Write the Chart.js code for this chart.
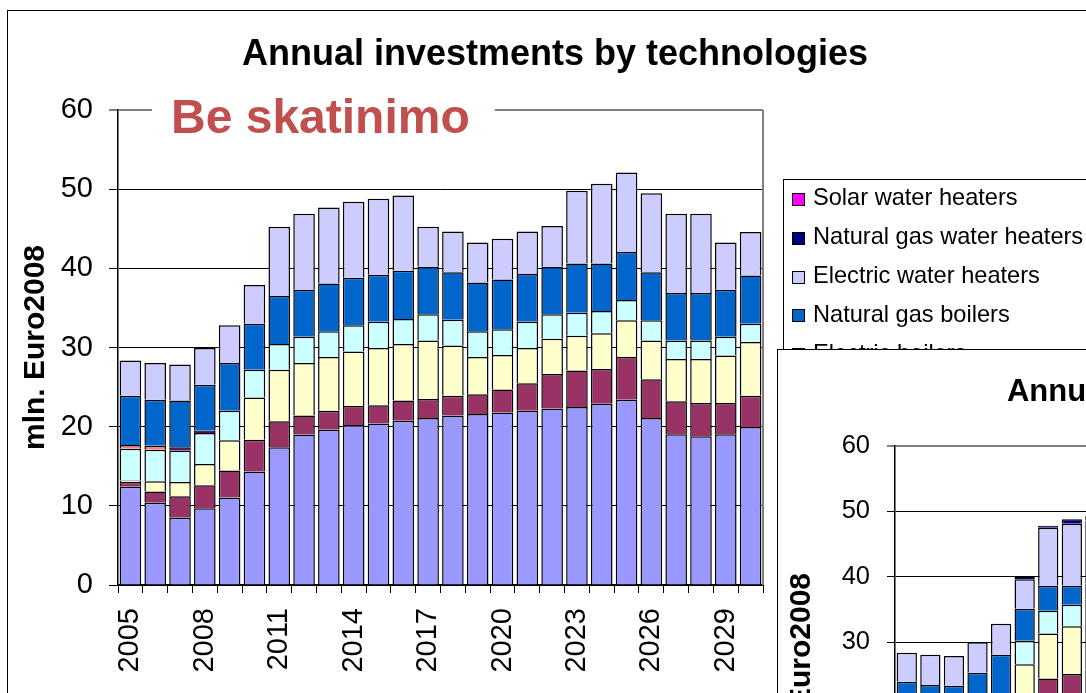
<!DOCTYPE html>
<html><head><meta charset="utf-8">
<script src="https://cdn.jsdelivr.net/npm/chart.js@4.4.1/dist/chart.umd.min.js"></script>
<style>
html,body{margin:0;padding:0;background:#fff;}
body{width:1086px;height:693px;overflow:hidden;position:relative;font-family:'Liberation Sans',Arial,sans-serif;}
#c1{position:absolute;left:0;top:0;}
#frame{position:absolute;left:7px;top:10px;width:1300px;height:900px;border:1px solid #000;pointer-events:none;}
#legend{position:absolute;left:783px;top:179px;width:400px;height:400px;border:1px solid #000;background:#fff;}
#legend .rows{position:absolute;left:0;top:-1.6px;}
#legend .row{position:relative;height:38.8px;line-height:38.8px;font-size:23.6px;white-space:nowrap;color:#000;}
#legend .sw{position:absolute;left:8px;top:14.5px;width:13px;height:13px;box-sizing:border-box;border:1px solid #000;}
#legend .tx{position:absolute;left:29px;top:0;}
#second{position:absolute;left:777px;top:349px;width:700px;height:700px;border:1px solid #000;background:#fff;overflow:hidden;}
#c2{position:absolute;left:0;top:0;}
</style>
</head>
<body>
<canvas id="c1" width="1110" height="720" style="width:1110px;height:720px"></canvas>
<div id="frame"></div>
<div id="legend"><div class="rows" id="legendRows"></div></div>
<div id="second"><canvas id="c2" width="997" height="600" style="width:997px;height:600px"></canvas></div>
<script>
// ---------- categories ----------
const years = ['2005','2006','2007','2008','2009','2010','2011','2012','2013','2014','2015','2016','2017','2018','2019','2020','2021','2022','2023','2024','2025','2026','2027','2028','2029','2030'];

// ---------- series names (bottom to top of stack) & colours ----------
const seriesNames = ['Building insulation','Heat pumps','Biomass boilers','District heating substations','Oil boilers','Electric boilers','Natural gas boilers','Electric water heaters','Natural gas water heaters','Solar water heaters'];
const seriesColors = ['#9999FF','#993366','#FFFFCC','#CCFFFF','#660066','#FF8080','#0066CC','#CCCCFF','#000080','#FF00FF'];

// ---------- main chart ("Be skatinimo") values, mln. Euro2008 ----------
const insulation   = [12.4,10.4,8.5,9.7,11.05,14.35,17.4,19.0,19.6,20.2,20.4,20.75,21.1,21.4,21.6,21.8,22.0,22.3,22.5,22.9,23.4,21.1,19.05,18.8,19.05,19.95];
const heatPumps    = [0.6,1.4,2.7,2.9,3.4,4.0,3.3,2.4,2.4,2.4,2.3,2.55,2.4,2.5,2.5,2.9,3.5,4.35,4.6,4.4,5.4,4.9,4.15,4.2,3.95,3.95];
const biomass      = [0.2,1.3,1.8,2.7,3.85,5.35,6.5,6.65,6.8,6.9,7.25,7.15,7.4,6.35,4.7,4.35,4.45,4.45,4.4,4.5,4.65,4.9,5.35,5.55,6.0,6.8];
const substations  = [4.0,4.0,4.0,3.9,3.7,3.5,3.25,3.3,3.25,3.3,3.3,3.15,3.3,3.25,3.25,3.25,3.3,3.1,2.9,2.8,2.55,2.55,2.35,2.35,2.35,2.3];
const oilBoilers   = [0,0,0.4,0.3,0,0,0,0,0,0,0,0,0,0,0,0,0,0,0,0,0,0,0,0,0,0];
const elecBoilers  = [0.5,0.5,0,0,0,0,0,0,0,0,0,0,0,0,0,0,0,0,0,0,0,0,0,0,0,0];
const gasBoilers   = [6.2,5.8,5.9,5.8,6.05,5.8,6.05,5.95,6.05,6.0,5.95,6.1,6.0,6.0,6.15,6.3,6.05,6.0,6.2,6.0,6.05,6.05,6.0,6.0,5.95,6.1];
const elecWater    = [4.45,4.65,4.55,4.65,4.75,4.9,8.75,9.6,9.6,9.6,9.6,9.5,5.05,5.15,5.05,5.15,5.35,5.15,9.2,10.1,10.05,10.0,10.0,10.0,5.95,5.5];
const gasWater     = [0,0,0,0,0,0,0,0,0,0,0,0,0,0,0,0,0,0,0,0,0,0,0,0,0,0];
const solarWater   = [0,0,0,0,0,0,0,0,0,0,0,0,0,0,0,0,0,0,0,0,0,0,0,0,0,0];

// ---------- second (overlapping) chart values; only 2005-2013 visible ----------
const insulation2  = [12.4,10.4,8.5,9.7,11.05,14.35,17.4,19.0,19.6,null,null,null,null,null,null,null,null,null,null,null,null,null,null,null,null,null];
const heatPumps2   = [0.6,1.4,2.7,2.9,3.4,4.0,7.0,6.1,6.2,null,null,null,null,null,null,null,null,null,null,null,null,null,null,null,null,null];
const biomass2     = [0.2,1.3,1.8,2.7,3.85,8.25,6.9,7.3,7.4,null,null,null,null,null,null,null,null,null,null,null,null,null,null,null,null,null];
const substations2 = [4.0,4.0,4.0,3.9,3.7,3.6,3.5,3.3,3.3,null,null,null,null,null,null,null,null,null,null,null,null,null,null,null,null,null];
const oilBoilers2  = [0,0,0.4,0.3,0,0,0,0,0,null,null,null,null,null,null,null,null,null,null,null,null,null,null,null,null,null];
const elecBoilers2 = [0.5,0.5,0,0,0,0,0,0,0,null,null,null,null,null,null,null,null,null,null,null,null,null,null,null,null,null];
const gasBoilers2  = [6.2,5.8,5.9,5.8,6.05,4.9,3.8,2.9,2.5,null,null,null,null,null,null,null,null,null,null,null,null,null,null,null,null,null];
const elecWater2   = [4.45,4.65,4.55,4.65,4.75,4.5,8.9,9.5,9.6,null,null,null,null,null,null,null,null,null,null,null,null,null,null,null,null,null];
const gasWater2    = [0,0,0,0,0,0.4,0.3,0.7,0.7,null,null,null,null,null,null,null,null,null,null,null,null,null,null,null,null,null];
const solarWater2  = [0,0,0,0,0,0,0,0,0,null,null,null,null,null,null,null,null,null,null,null,null,null,null,null,null,null];

const yTicks = [0,10,20,30,40,50,60];

const mainSeries = [insulation,heatPumps,biomass,substations,oilBoilers,elecBoilers,gasBoilers,elecWater,gasWater,solarWater];
const secondSeries = [insulation2,heatPumps2,biomass2,substations2,oilBoilers2,elecBoilers2,gasBoilers2,elecWater2,gasWater2,solarWater2];

const FONT = "'Liberation Sans', Arial, sans-serif";
Chart.defaults.font.family = FONT;
Chart.defaults.color = '#000';

function makeDatasets(series, barPct) {
  return series.map((vals, i) => ({
    label: seriesNames[i],
    data: vals,
    backgroundColor: seriesColors[i],
    borderColor: '#000',
    borderWidth: 1.5,
    borderSkipped: 'start',
    categoryPercentage: 1.0,
    barPercentage: barPct
  }));
}

// grey plot-area border on the right
const plotFrame = {
  id: 'plotFrame',
  beforeDatasetsDraw(chart) {
    const {ctx, chartArea: a} = chart;
    ctx.save();
    ctx.strokeStyle = '#808080';
    ctx.lineWidth = 2;
    ctx.beginPath();
    ctx.moveTo(a.right, a.top);
    ctx.lineTo(a.right, a.bottom);
    ctx.stroke();
    ctx.restore();
  }
};

// "Be skatinimo" text box
const noteBox = {
  id: 'noteBox',
  afterDraw(chart, args, o) {
    if (!o.text) return;
    const {ctx, chartArea: a} = chart;
    ctx.save();
    ctx.font = 'bold ' + o.size + 'px ' + FONT;
    const w = ctx.measureText(o.text).width;
    const x = a.left + o.dx;
    ctx.fillStyle = '#fff';
    ctx.fillRect(x - 19, a.top - 12, w + 44, 24);
    ctx.fillStyle = o.color;
    ctx.textBaseline = 'alphabetic';
    ctx.fillText(o.text, x, a.top + o.dy);
    ctx.restore();
  }
};

// free-placed vertical axis title (second chart)
const sideTitle = {
  id: 'sideTitle',
  afterDraw(chart, args, o) {
    if (!o.text) return;
    const ctx = chart.ctx;
    ctx.save();
    ctx.translate(o.x, o.y);
    ctx.rotate(-Math.PI / 2);
    ctx.font = 'bold ' + o.size + 'px ' + FONT;
    ctx.fillStyle = '#000';
    ctx.textAlign = 'center';
    ctx.textBaseline = 'middle';
    ctx.fillText(o.text, 0, 0);
    ctx.restore();
  }
};

function buildOptions(cfg) {
  return {
    responsive: false,
    animation: false,
    devicePixelRatio: 1,
    layout: { padding: 0 },
    plugins: {
      legend: { display: false },
      tooltip: { enabled: false },
      title: {
        display: true,
        text: 'Annual investments by technologies',
        color: '#000',
        font: { size: cfg.titleSize, weight: 'bold' },
        padding: { top: cfg.titleTop, bottom: cfg.titleBottom }
      },
      noteBox: cfg.note || {},
      sideTitle: cfg.side || {}
    },
    scales: {
      x: {
        stacked: true,
        grid: { offset: true, drawOnChartArea: false, tickLength: 8, tickColor: '#000', tickWidth: 1 },
        border: { color: '#000', width: 2 },
        ticks: {
          autoSkip: false, minRotation: 90, maxRotation: 90, padding: 15,
          font: { size: cfg.tickSize },
          callback: function (v, i) { return i % 3 === 0 ? years[i] : ''; }
        },
        afterFit: s => { s.height = cfg.xHeight; }
      },
      y: {
        stacked: true, min: 0, max: 60,
        afterBuildTicks: s => { s.ticks = yTicks.map(v => ({ value: v })); },
        ticks: { padding: cfg.yPad, font: { size: cfg.tickSize } },
        grid: {
          color: c => (c.tick && c.tick.value === 60) ? '#808080' : '#000',
          lineWidth: c => (c.tick && c.tick.value === 60) ? 2 : 1,
          tickColor: '#000', tickLength: cfg.yTick, tickWidth: 1
        },
        border: { color: '#000', width: 1.5 },
        title: cfg.yTitle ? {
          display: true, text: 'mln. Euro2008',
          font: { size: 30, weight: 'bold' }, padding: { top: 18, bottom: 0 }
        } : { display: false },
        afterFit: s => { s.width = cfg.yWidth; }
      },
      pad: {
        type: 'linear', axis: 'y', position: 'right', display: true,
        grid: { display: false }, border: { display: false }, ticks: { display: false },
        afterFit: s => { s.width = cfg.padWidth; }
      }
    }
  };
}

// ---------- main chart ----------
const chart1 = new Chart(document.getElementById('c1'), {
  type: 'bar',
  data: { labels: years, datasets: makeDatasets(mainSeries, 0.87) },
  options: buildOptions({
    titleSize: 36, titleTop: 33.7, titleBottom: 33.1,
    tickSize: 29, xHeight: 135, yPad: 16, yTick: 9, yWidth: 118, padWidth: 347,
    yTitle: true,
    note: { text: 'Be skatinimo', size: 48, color: '#C0504D', dx: 53, dy: 23 }
  }),
  plugins: [plotFrame, noteBox]
});

// ---------- HTML legend built from the main chart's datasets ----------
const rows = document.getElementById('legendRows');
chart1.data.datasets.slice().reverse().forEach(ds => {
  const r = document.createElement('div');
  r.className = 'row';
  const sw = document.createElement('span');
  sw.className = 'sw';
  sw.style.background = ds.backgroundColor;
  const tx = document.createElement('span');
  tx.className = 'tx';
  tx.textContent = ds.label;
  r.appendChild(sw); r.appendChild(tx);
  rows.appendChild(r);
});

// ---------- second, overlapping chart ----------
new Chart(document.getElementById('c2'), {
  type: 'bar',
  data: { labels: years, datasets: makeDatasets(secondSeries, 0.86) },
  options: buildOptions({
    titleSize: 31, titleTop: 23.9, titleBottom: 34.9,
    tickSize: 25.5, xHeight: 112, yPad: 17, yTick: 8, yWidth: 117, padWidth: 267,
    yTitle: false,
    side: { text: 'mln. Euro2008', size: 30, x: 23.7, y: 325.5 }
  }),
  plugins: [plotFrame, sideTitle]
});
</script>
</body></html>
